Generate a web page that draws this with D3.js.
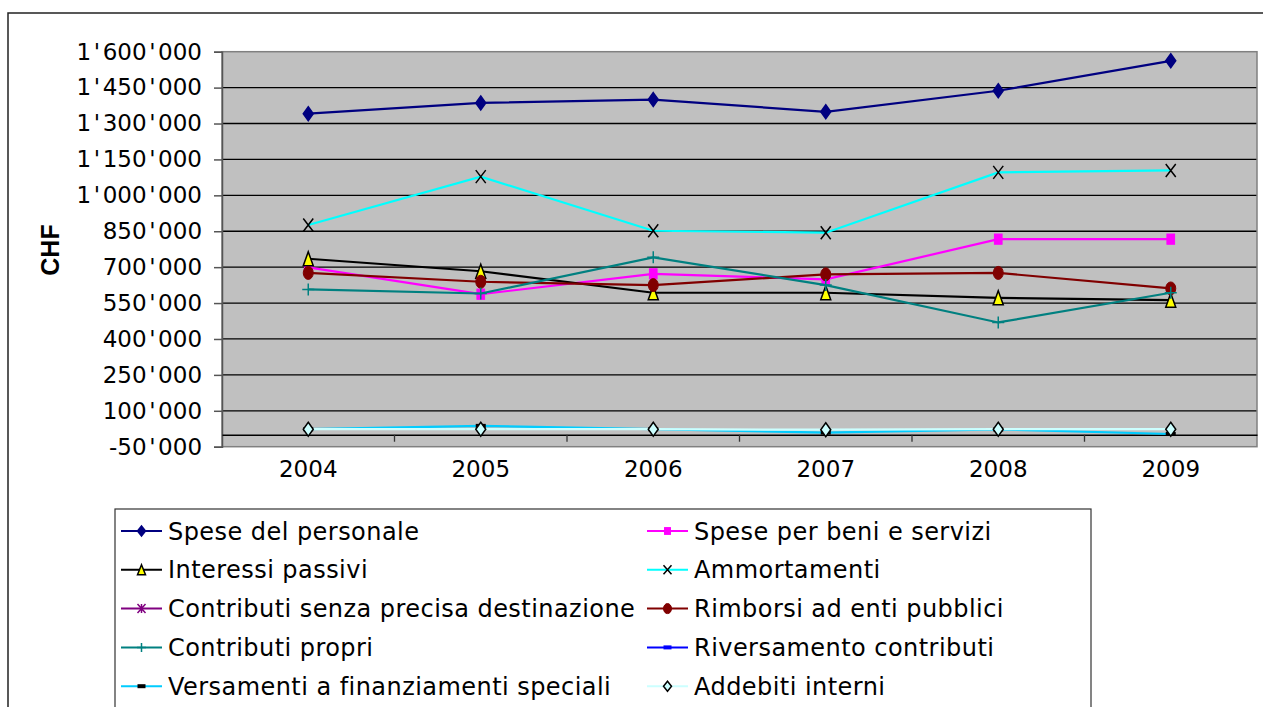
<!DOCTYPE html>
<html><head><meta charset="utf-8">
<script src="https://cdn.jsdelivr.net/npm/d3@7"></script>
<style>body{margin:0;background:#fff;overflow:hidden} svg{display:block}</style>
</head><body><svg id="c" width="1263" height="707"></svg>
<script>
// ---- data ----
const years = ["2004", "2005", "2006", "2007", "2008", "2009"];
const seriesNames = [
  "Spese del personale", "Spese per beni e servizi",
  "Interessi passivi", "Ammortamenti",
  "Contributi senza precisa destinazione", "Rimborsi ad enti pubblici",
  "Contributi propri", "Riversamento contributi",
  "Versamenti a finanziamenti speciali", "Addebiti interni"
];
const spesePersonale   = [1341000, 1386000, 1400000, 1349000, 1437000, 1562000];
const speseBeni        = [699000, 587000, 672000, 649000, 817000, 817000];
const interessiPassivi = [735000, 683000, 593000, 593000, 572000, 562000];
const ammortamenti     = [876000, 1078000, 852000, 844000, 1096000, 1104000];
const contributiSenza  = [null, null, null, null, null, null];
const rimborsi         = [676000, 639000, 625000, 670000, 676000, 611000];
const contributiPropri = [607000, 590000, 741000, 625000, 469000, 593000];
const riversamento     = [null, null, null, null, null, null];
const versamenti       = [23000, 37000, 23000, 9000, 22000, 3000];
const addebiti         = [23000, 23000, 23000, 21000, 23000, 23000];
const yTicks = [-50000, 100000, 250000, 400000, 550000, 700000, 850000,
                1000000, 1150000, 1300000, 1450000, 1600000];
const yLabel = "CHF";

// ---- styles ----
const styles = [
  {line: "#000080", marker: "diamond", fill: "#000080", stroke: "#000080"},
  {line: "#FF00FF", marker: "square", fill: "#FF00FF", stroke: "#FF00FF"},
  {line: "#000000", marker: "triangle", fill: "#FFFF00", stroke: "#000000"},
  {line: "#00FFFF", marker: "x", fill: "none", stroke: "#000000"},
  {line: "#800080", marker: "star", fill: "none", stroke: "#800080"},
  {line: "#800000", marker: "circle", fill: "#800000", stroke: "#800000"},
  {line: "#008080", marker: "plus", fill: "none", stroke: "#008080"},
  {line: "#0000FF", marker: "dash", fill: "#0000FF", stroke: "#0000FF"},
  {line: "#00CCFF", marker: "dash", fill: "#000000", stroke: "#000000"},
  {line: "#CCFFFF", marker: "diamond", fill: "#CCFFFF", stroke: "#000000"}
];
const values = [spesePersonale, speseBeni, interessiPassivi, ammortamenti, contributiSenza,
                rimborsi, contributiPropri, riversamento, versamenti, addebiti];

const svg = d3.select("#c");
const fmt = d3.formatLocale({decimal: ".", thousands: "'", grouping: [3], currency: ["", ""], minus: "-"}).format(",");

const L = 222, R = 1257, T = 51.7, B = 446.7;
const x = d3.scaleBand().domain(years).range([L, R]).padding(0);
const y = d3.scaleLinear().domain([-50000, 1600000]).range([B, T]);

// outer chart border
svg.append("path").attr("d", `M8,709 L8,13 L1265,13`).attr("fill", "none")
  .attr("stroke", "#222").attr("stroke-width", 1.5);

// plot area
svg.append("rect").attr("x", L).attr("y", T).attr("width", R - L).attr("height", B - T)
  .attr("fill", "#C0C0C0");
svg.append("g").selectAll("line").data(yTicks.filter(d => d > -50000 && d < 1600000)).join("line")
  .attr("x1", L).attr("x2", R).attr("y1", d => y(d)).attr("y2", d => y(d))
  .attr("stroke", "#000").attr("stroke-width", 1.3);
svg.append("rect").attr("x", L).attr("y", T).attr("width", R - L).attr("height", B - T)
  .attr("fill", "none").attr("stroke", "#808080").attr("stroke-width", 1.5);

// y axis
const yAxis = d3.axisLeft(y).tickValues(yTicks).tickFormat(fmt).tickSize(8).tickPadding(12);
const gy = svg.append("g").attr("transform", `translate(${L},0)`).call(yAxis);
gy.select(".domain").attr("stroke", "#555").attr("stroke-width", 1.5);
gy.selectAll(".tick line").attr("stroke", "#555").attr("stroke-width", 1.5);
gy.selectAll("text").attr("font-family", "DejaVu Sans, Verdana, sans-serif").attr("font-size", 23).attr("fill", "#000")
  .each(function() {
    const t = d3.select(this);
    const parts = t.text().split("'");
    t.text(null);
    parts.forEach((p, i) => {
      if (i > 0) t.append("tspan").attr("dx", 2.6).text("'");
      t.append("tspan").attr("dx", i > 0 ? 2.6 : 0).text(p);
    });
  });

// x axis at zero
const xAxis = d3.axisBottom(x).tickSize(0).tickPadding(26);
const gx = svg.append("g").attr("transform", `translate(0,${y(0)})`).call(xAxis);
gx.select(".domain").attr("stroke", "#000").attr("stroke-width", 1.3);
gx.selectAll("text").attr("font-family", "DejaVu Sans, Verdana, sans-serif").attr("font-size", 23).attr("fill", "#000");
svg.append("g").selectAll("line").data(years.slice(1)).join("line")
  .attr("x1", d => x(d)).attr("x2", d => x(d)).attr("y1", y(0)).attr("y2", y(0) + 7)
  .attr("stroke", "#333").attr("stroke-width", 1.3);

// y label
svg.append("text").attr("transform", `translate(59,250) rotate(-90)`).attr("text-anchor", "middle")
  .attr("font-family", "Liberation Sans, Arial, sans-serif").attr("font-weight", "bold")
  .attr("font-size", 25).attr("fill", "#000").text(yLabel);

// marker drawing
function drawMarker(g, type, cx, cy, st, s) {
  const w = s.w, h = s.h;
  if (type === "diamond") {
    g.append("path").attr("d", `M${cx},${cy - h} L${cx + w},${cy} L${cx},${cy + h} L${cx - w},${cy} Z`)
      .attr("fill", st.fill).attr("stroke", st.stroke).attr("stroke-width", 1.5);
  } else if (type === "square") {
    g.append("rect").attr("x", cx - w * 0.85).attr("y", cy - h * 0.85).attr("width", w * 1.7).attr("height", h * 1.7)
      .attr("fill", st.fill).attr("stroke", st.stroke).attr("stroke-width", 1);
  } else if (type === "triangle") {
    g.append("path").attr("d", `M${cx},${cy - h} L${cx + w},${cy + h} L${cx - w},${cy + h} Z`)
      .attr("fill", st.fill).attr("stroke", st.stroke).attr("stroke-width", 1.5);
  } else if (type === "x") {
    g.append("path").attr("d", `M${cx - w},${cy - h} L${cx + w},${cy + h} M${cx + w},${cy - h} L${cx - w},${cy + h}`)
      .attr("stroke", st.stroke).attr("stroke-width", 1.5);
  } else if (type === "star") {
    g.append("path").attr("d", `M${cx - w},${cy - h} L${cx + w},${cy + h} M${cx + w},${cy - h} L${cx - w},${cy + h} M${cx},${cy - h} L${cx},${cy + h}`)
      .attr("stroke", st.stroke).attr("stroke-width", 1.5);
  } else if (type === "circle") {
    g.append("ellipse").attr("cx", cx).attr("cy", cy).attr("rx", w).attr("ry", h)
      .attr("fill", st.fill).attr("stroke", st.stroke);
  } else if (type === "plus") {
    g.append("path").attr("d", `M${cx - w},${cy} L${cx + w},${cy} M${cx},${cy - h} L${cx},${cy + h}`)
      .attr("stroke", st.stroke).attr("stroke-width", 1.5);
  } else if (type === "dash") {
    g.append("rect").attr("x", cx - w).attr("y", cy - 2).attr("width", 2 * w).attr("height", 4)
      .attr("fill", st.fill);
  }
}

const markerSize = {
  diamond: {w: 5, h: 7}, square: {w: 4.5, h: 6}, triangle: {w: 5, h: 7}, x: {w: 5, h: 6.5},
  star: {w: 5, h: 6}, circle: {w: 5, h: 6.5}, plus: {w: 6, h: 6}, dash: {w: 5, h: 2}
};

const line = d3.line().defined(d => d.v != null).x(d => x(d.year) + x.bandwidth() / 2).y(d => y(d.v));
const series = seriesNames.map((name, i) => ({
  name, st: styles[i], pts: years.map((yr, j) => ({year: yr, v: values[i][j]}))
}));

const gs = svg.append("g");
series.forEach(s => {
  const g = gs.append("g");
  g.append("path").attr("d", line(s.pts)).attr("fill", "none").attr("stroke", s.st.line).attr("stroke-width", 2.2);
  s.pts.filter(p => p.v != null).forEach(p => {
    drawMarker(g, s.st.marker, x(p.year) + x.bandwidth() / 2, y(p.v), s.st, markerSize[s.st.marker]);
  });
});

// legend
const lg = svg.append("g");
lg.append("rect").attr("x", 115).attr("y", 509).attr("width", 976).attr("height", 220)
  .attr("fill", "#fff").attr("stroke", "#333").attr("stroke-width", 1.2);
const legendSmall = {
  diamond: {w: 4, h: 5}, square: {w: 3.5, h: 4}, triangle: {w: 4, h: 5}, x: {w: 4, h: 4.5},
  star: {w: 4, h: 4.5}, circle: {w: 4, h: 5}, plus: {w: 4.5, h: 4.5}, dash: {w: 4, h: 2}
};
series.forEach((s, i) => {
  const col = i % 2, row = Math.floor(i / 2);
  const x0 = col === 0 ? 121 : 647;
  const cy = 531 + row * 38.8;
  const g = lg.append("g");
  g.append("line").attr("x1", x0).attr("x2", x0 + 41).attr("y1", cy).attr("y2", cy)
    .attr("stroke", s.st.line).attr("stroke-width", 2);
  drawMarker(g, s.st.marker, x0 + 20.5, cy, s.st, legendSmall[s.st.marker]);
  g.append("text").attr("x", x0 + 47).attr("y", cy).attr("dy", "0.36em")
    .attr("font-family", "DejaVu Sans, Verdana, sans-serif").attr("font-size", 24)
    .attr("letter-spacing", 0.45).attr("fill", "#000")
    .text(s.name);
});
</script></body></html>
